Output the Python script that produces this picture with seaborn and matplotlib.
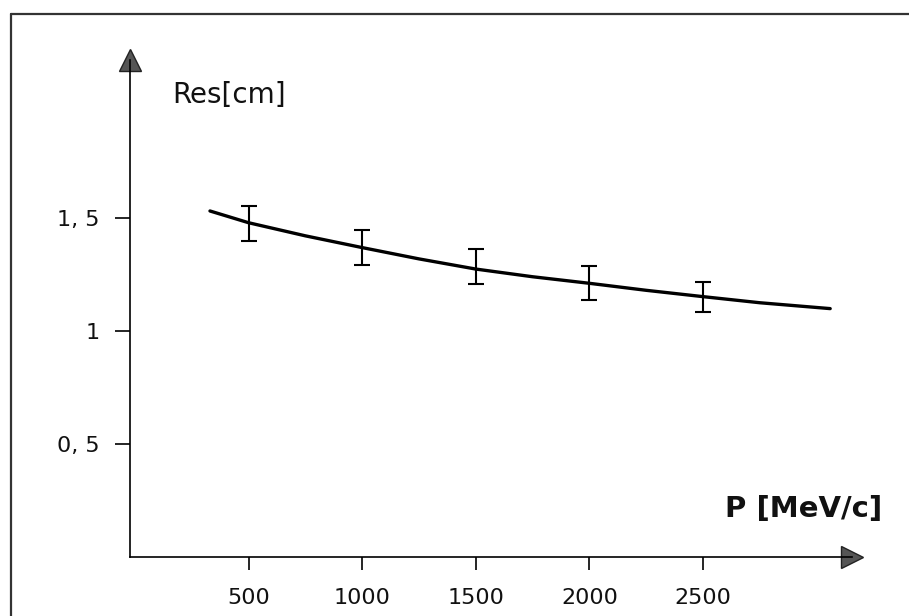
import matplotlib
matplotlib.use("Agg")
import matplotlib.pyplot as plt
import seaborn as sns
import pandas as pd
from matplotlib.lines import Line2D

# ---- data ----
curve_p = [330, 500, 750, 1000, 1250, 1500, 1750, 2000, 2250, 2500, 2750, 3060]
curve_res = [1.531, 1.479, 1.421, 1.369, 1.319, 1.274, 1.240, 1.211, 1.180, 1.152, 1.125, 1.099]

meas_p = [500, 1000, 1500, 2000, 2500]
meas_res = [1.479, 1.369, 1.274, 1.211, 1.152]
meas_err_low = [0.079, 0.077, 0.066, 0.075, 0.068]
meas_err_high = [0.075, 0.077, 0.088, 0.078, 0.063]

x_ticks = [500, 1000, 1500, 2000, 2500]
x_tick_labels = ["500", "1000", "1500", "2000", "2500"]
y_ticks = [0.5, 1.0, 1.5]
y_tick_labels = ["0, 5", "1", "1, 5"]

y_label = "Res[cm]"
x_label = "P [MeV/c]"

# ---- style ----
sns.set_style("white")
plt.rcParams["font.family"] = ["DejaVu Sans"]

W, H = 909, 616
fig = plt.figure(figsize=(W / 100, H / 100), dpi=100)
ax = fig.add_axes([130 / W, (H - 557) / H, (852 - 130) / W, (557 - 60) / H])

curve_df = pd.DataFrame({"p": curve_p, "res": curve_res})
sns.lineplot(data=curve_df, x="p", y="res", ax=ax, color="black", lw=2.4,
             sort=True, estimator=None)

ax.errorbar(meas_p, meas_res, yerr=[meas_err_low, meas_err_high], fmt="none",
            ecolor="black", elinewidth=1.5, capsize=5.5, capthick=1.5)

ax.set_xlim(-22, 3156)
ax.set_ylim(0, 2.199)
ax.set_xticks(x_ticks)
ax.set_xticklabels(x_tick_labels)
ax.set_yticks(y_ticks)
ax.set_yticklabels(y_tick_labels)
ax.set_xlabel("")
ax.set_ylabel("")

for s in ["top", "right"]:
    ax.spines[s].set_visible(False)
for s in ["left", "bottom"]:
    ax.spines[s].set_color("black")
    ax.spines[s].set_linewidth(1.2)

ax.tick_params(axis="y", direction="out", length=11, width=1.2, pad=11,
               labelsize=16, color="black", labelcolor="#111111", left=True)
ax.tick_params(axis="x", direction="out", length=9, width=1.2, pad=13,
               labelsize=16, color="black", labelcolor="#111111", bottom=True)

# arrow heads
ax.plot(1, 0, marker=">", markersize=16, color="#555555", mec="#222222",
        transform=ax.transAxes, clip_on=False)
ax.plot(0, 1, marker="^", markersize=16, color="#555555", mec="#222222",
        transform=ax.transAxes, clip_on=False)

# labels
fig.text(172 / W, (H - 103) / H, y_label, fontsize=20, va="baseline",
         ha="left", color="#111111")
fig.text(725 / W, (H - 517) / H, x_label, fontsize=21, fontweight="bold",
         va="baseline", ha="left", color="#111111")

# frame of the scanned page
fig.add_artist(Line2D([11 / W, 11 / W], [0, (H - 14) / H], color="#333333",
                      lw=1.6, transform=fig.transFigure))
fig.add_artist(Line2D([11 / W, 1.0], [(H - 14) / H, (H - 14) / H],
                      color="#333333", lw=1.6, transform=fig.transFigure))

fig.savefig("out.png", dpi=100, facecolor="white")
